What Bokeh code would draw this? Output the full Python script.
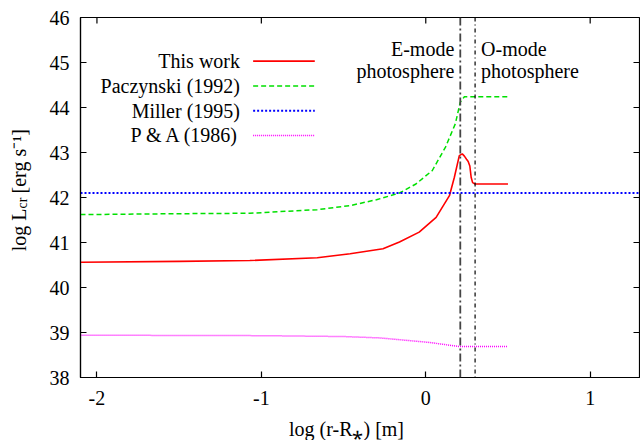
import math
from bokeh.plotting import figure
from bokeh.models import Range1d, FixedTicker, Span, Label
from bokeh.embed import file_html
from bokeh.resources import INLINE

# ---- data: log critical luminosity vs log height above the surface ----
x_this = [-2.1, -1.5, -1.07, -0.66, -0.46, -0.26, -0.16, -0.04, 0.063, 0.144,
          0.174, 0.204, 0.222, 0.235, 0.248, 0.258, 0.268, 0.276, 0.285, 0.30, 0.50]
y_this = [40.56, 40.58, 40.60, 40.66, 40.75, 40.86, 41.01, 41.23, 41.56, 42.04,
          42.45, 42.93, 42.97, 42.92, 42.85, 42.80, 42.70, 42.45, 42.33, 42.30, 42.30]

x_pac = [-2.1, -1.5, -1.07, -0.66, -0.46, -0.30, -0.16, -0.06, 0.04, 0.12,
         0.18, 0.21, 0.235, 0.5]
y_pac = [41.62, 41.64, 41.65, 41.73, 41.82, 41.95, 42.10, 42.30, 42.60, 43.12,
         43.64, 44.12, 44.24, 44.24]

x_mil = [-2.1, 1.3]
y_mil = [42.1, 42.1]

x_pa = [-2.1, -1.0, -0.5, -0.28, 0.02, 0.2, 0.5]
y_pa = [38.94, 38.93, 38.91, 38.88, 38.78, 38.69, 38.69]

series_names = ["This work", "Paczynski (1992)", "Miller (1995)", "P & A (1986)"]

photosphere_x = [0.21, 0.30]          # E-mode, O-mode
x_ticks = [-2, -1, 0, 1]
y_ticks = [38, 39, 40, 41, 42, 43, 44, 45, 46]

X_LO, X_HI = -2.1, 1.3
Y_LO, Y_HI = 38, 46

FONT = "Liberation Serif"
FS = 20
SS = 14

W, H = 640, 440
BL, BR, BT, BB = 80, 1, 17, 63
FRAME_W, FRAME_H = W - BL - BR, H - BT - BB
PX_X = FRAME_W / (X_HI - X_LO)
PX_Y = FRAME_H / (Y_HI - Y_LO)

def dx(px):
    """data x for a pixel offset from the frame's left edge"""
    return X_LO + px / PX_X

def dy(px):
    """data y for a pixel offset up from the frame's bottom edge"""
    return Y_LO + px / PX_Y

p = figure(width=W, height=H, output_backend="svg", toolbar_location=None,
           x_range=Range1d(X_LO, X_HI), y_range=Range1d(Y_LO, Y_HI),
           min_border_left=BL, min_border_right=BR, min_border_top=BT,
           min_border_bottom=BB, background_fill_color="white",
           border_fill_color="white")
p.outline_line_color = "black"
p.outline_line_width = 1.2
p.grid.visible = False

for ax, ticks, standoff in ((p.xaxis[0], x_ticks, 13), (p.yaxis[0], y_ticks, 11)):
    ax.ticker = FixedTicker(ticks=ticks)
    ax.major_label_overrides = {t: str(t) for t in ticks}
    ax.major_tick_in = 6
    ax.major_tick_out = 0
    ax.minor_tick_in = 0
    ax.minor_tick_out = 0
    ax.axis_line_color = "black"
    ax.axis_line_width = 1.2
    ax.major_tick_line_color = "black"
    ax.major_tick_line_width = 1.2
    ax.major_label_text_font = FONT
    ax.major_label_text_font_size = f"{FS}px"
    ax.major_label_text_color = "black"
    ax.major_label_standoff = standoff

# mirrored inward ticks on the top and right edges of the frame
p.ray(x=x_ticks, y=[Y_HI] * len(x_ticks), length=6, length_units="screen",
      angle=-math.pi / 2, line_color="black", line_width=1.2)
p.ray(x=[X_HI] * len(y_ticks), y=y_ticks, length=6, length_units="screen",
      angle=math.pi, line_color="black", line_width=1.2)

# ---- curves ----
styles = [
    dict(color="#ff0000", width=1.6, dash="solid"),
    dict(color="#00e000", width=1.5, dash="5 3"),
    dict(color="#0000ff", width=2.0, dash="2 2"),
    dict(color="#ff00ff", width=1.5, dash="1 1"),
]
xs = [x_this, x_pac, x_mil, x_pa]
ys = [y_this, y_pac, y_mil, y_pa]
for xv, yv, st in zip(xs, ys, styles):
    p.line(xv, yv, line_color=st["color"], line_width=st["width"],
           line_dash=st["dash"])

# ---- photosphere markers ----
p.add_layout(Span(location=photosphere_x[0], dimension="height",
                  line_color="#444444", line_width=1.8, line_dash="8 3 2 3"))
p.add_layout(Span(location=photosphere_x[1], dimension="height",
                  line_color="black", line_width=1.2, line_dash="4 3 1 3"))

def txt(x, y, s, align, **kw):
    p.add_layout(Label(x=x, y=y, text=s, text_align=align,
                       text_baseline="middle", text_font=FONT,
                       text_font_size=f"{FS}px", text_color="black", **kw))

txt(photosphere_x[0], 45.31, "E-mode", "right", x_offset=-6)
txt(photosphere_x[0], 44.82, "photosphere", "right", x_offset=-6)
txt(photosphere_x[1], 45.31, "O-mode", "left", x_offset=6)
txt(photosphere_x[1], 44.82, "photosphere", "left", x_offset=6)

# ---- key: label on the left, line sample on the right ----
key_text_x = -1.13
key_x0, key_x1 = -1.05, -0.675
key_y0, key_dy = 45.03, 0.55
for i, (name, st) in enumerate(zip(series_names, styles)):
    yk = key_y0 - i * key_dy
    txt(key_text_x, yk, name, "right")
    p.line([key_x0, key_x1], [yk, yk], line_color=st["color"],
           line_width=st["width"], line_dash=st["dash"])

# ---- axis titles, placed in the side panels ----
p.add_layout(Label(x=dx(266), y=dy(-51), text="log (r-R\u204e) [m]",
                   text_align="center", text_baseline="alphabetic",
                   text_font=FONT, text_font_size=f"{FS}px",
                   text_color="black"), "below")

# advance widths (em) of the serif face, used to set the subscript
em = {"l": 0.278, "o": 0.5, "g": 0.5, " ": 0.25, "L": 0.611, "c": 0.444,
      "r": 0.333, "\u00a0": 0.25, "[": 0.333, "e": 0.444, "s": 0.389,
      "]": 0.333, "\u207b": 0.4, "\u00b9": 0.3}
head = "log L"
sub = "cr"
gap = "\u00a0\u00a0"
tail = " [erg s\u207b\u00b9]"
head_w = sum(em[c] for c in head) * FS
total_w = sum(em[c] for c in head + gap + tail) * FS
start = FRAME_H / 2 + 8 - total_w / 2

p.add_layout(Label(x=dx(-62), y=dy(start), text=head + gap + tail,
                   angle=math.pi / 2, text_align="left",
                   text_baseline="alphabetic", text_font=FONT,
                   text_font_size=f"{FS}px", text_color="black"), "left")
p.add_layout(Label(x=dx(-58), y=dy(start + head_w), text=sub,
                   angle=math.pi / 2, text_align="left",
                   text_baseline="alphabetic", text_font=FONT,
                   text_font_size=f"{SS}px", text_color="black"), "left")

open("out.html", "w").write(file_html(p, INLINE))
